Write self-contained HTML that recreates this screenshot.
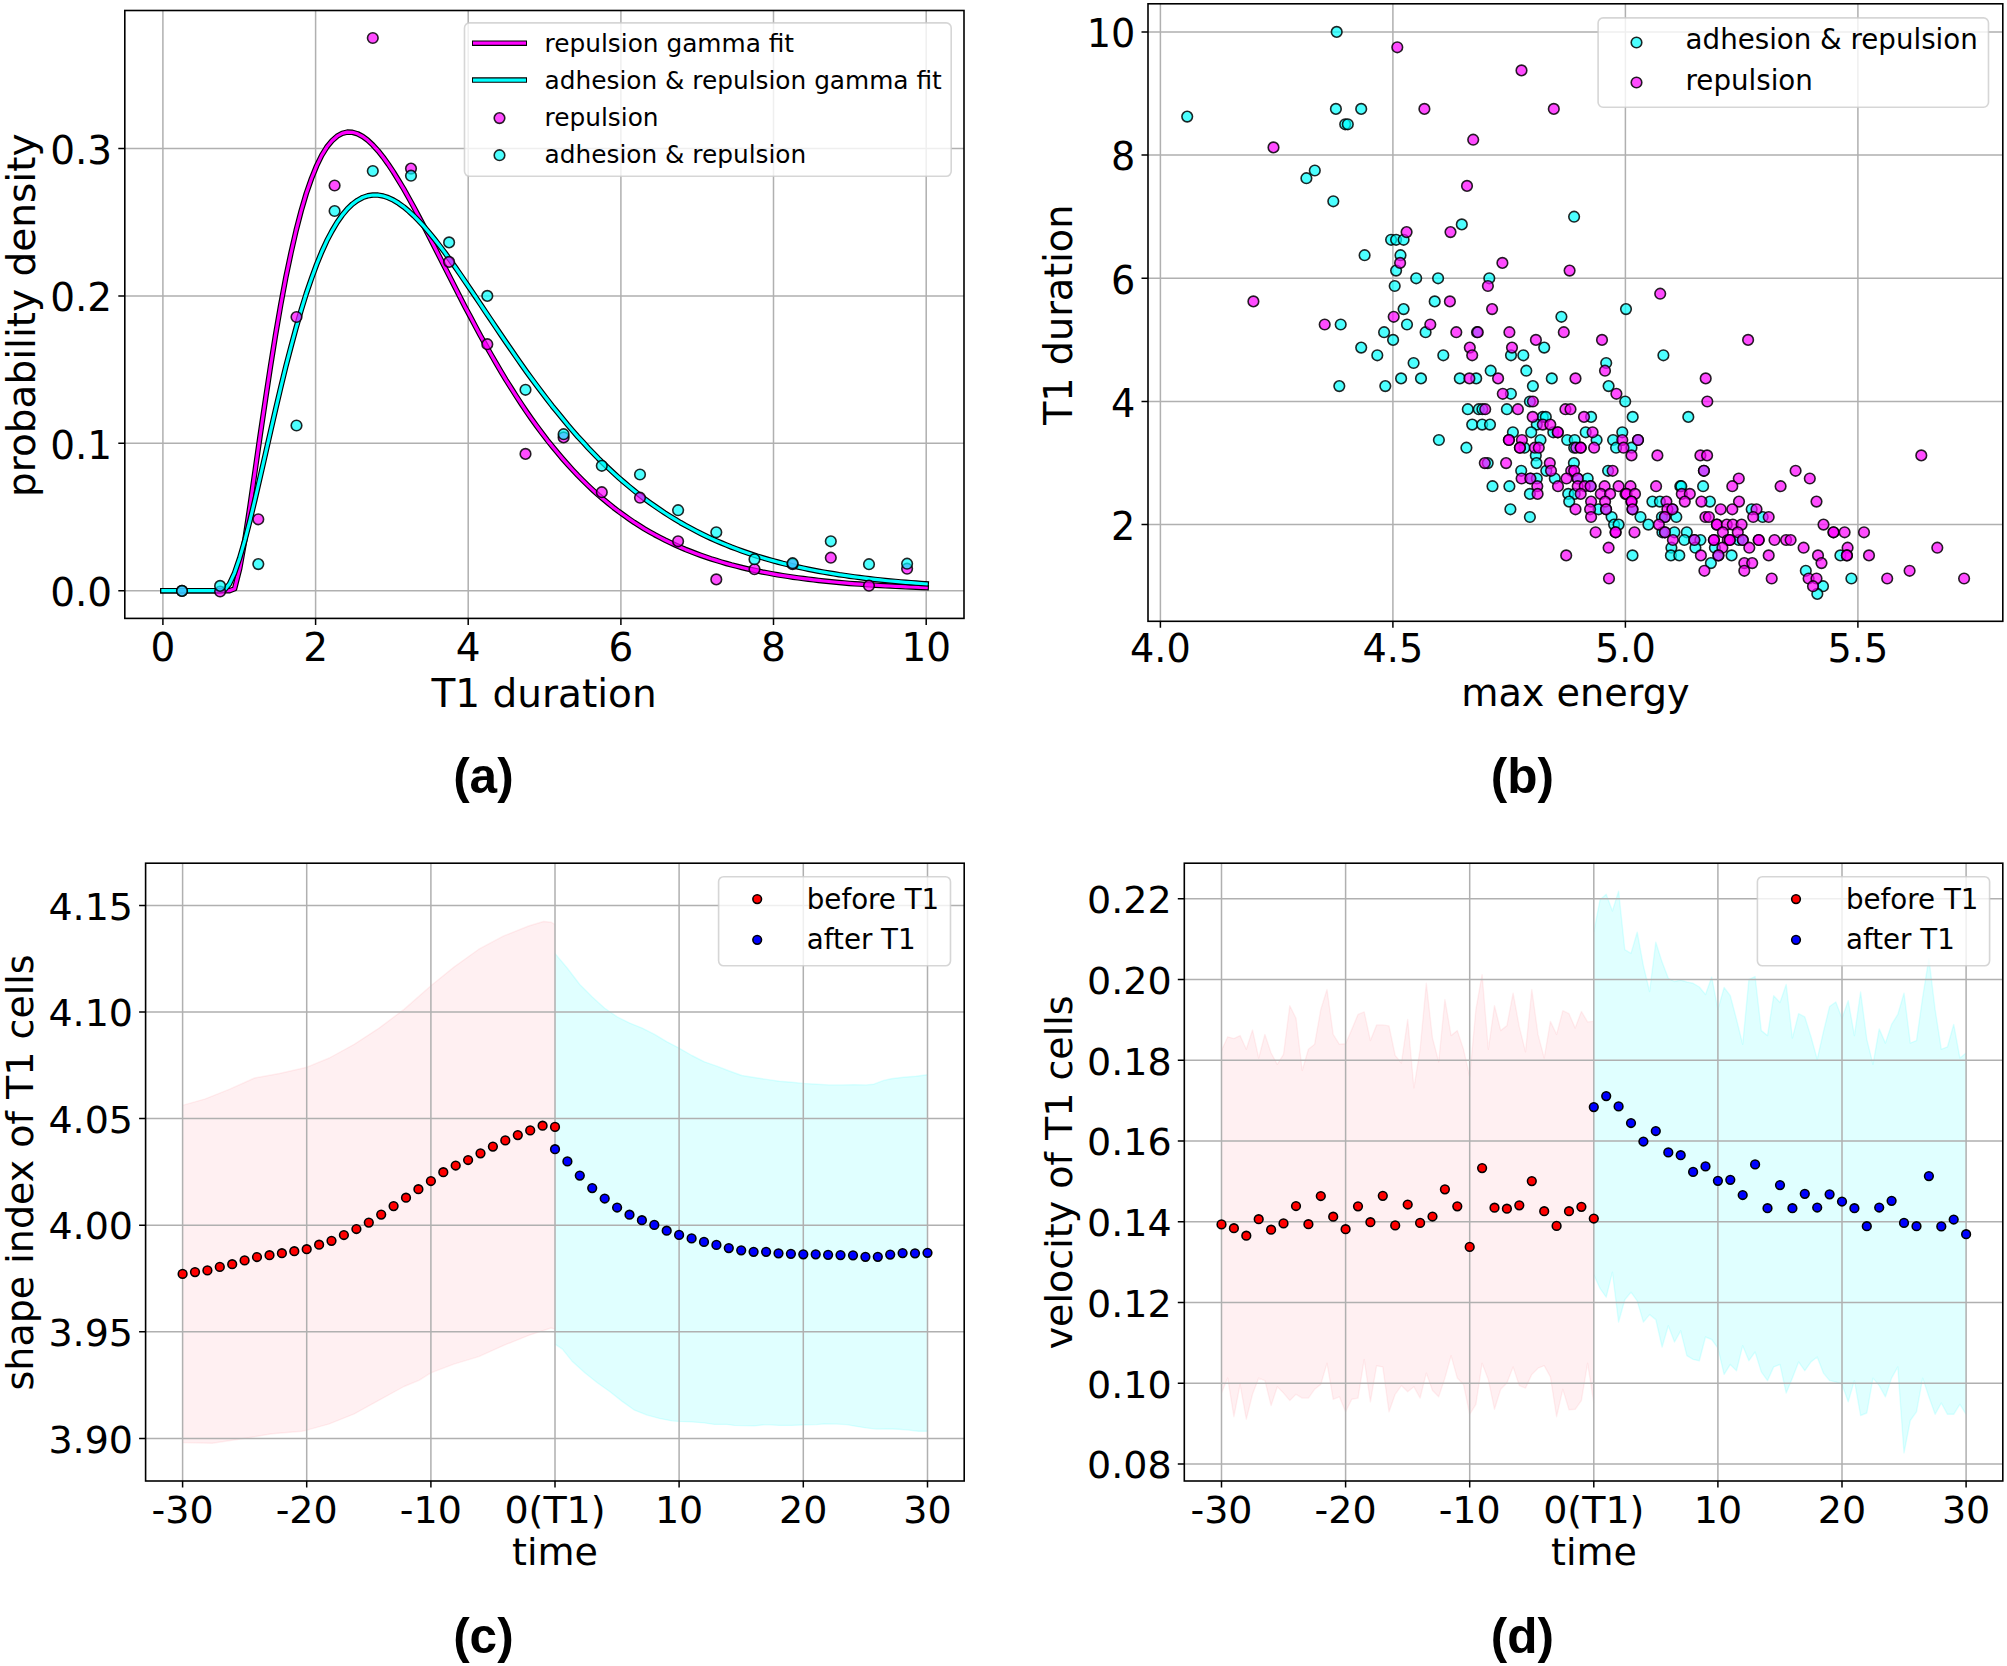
<!DOCTYPE html>
<html lang="en"><head><meta charset="utf-8"><title>T1 transitions figure</title>
<style>html,body{margin:0;padding:0;background:#fff;overflow:hidden}svg{display:block}</style></head>
<body>
<svg width="2007" height="1666" viewBox="0 0 2007 1666">
<rect width="2007" height="1666" fill="#fff"/>
<g id="panel-a">
<path d="M162.9 10.5V618.4M315.6 10.5V618.4M468.2 10.5V618.4M620.9 10.5V618.4M773.5 10.5V618.4M926.2 10.5V618.4M124.8 590.7H964M124.8 443.3H964M124.8 295.9H964M124.8 148.5H964" stroke="#b0b0b0" stroke-width="1.5" fill="none"/>
<path d="M162.9 590.7L168 590.7L173.1 590.7L178.3 590.7L183.4 590.7L188.5 590.7L193.6 590.7L198.8 590.7L203.9 590.7L209 590.7L214.1 590.7L219.3 590.7L224.4 590.7L229.5 590.7L234.6 588.7L239.7 568.6L244.9 539.5L250 506L255.1 470.7L260.2 435L265.4 400L270.5 366.3L275.6 334.5L280.7 304.9L285.8 277.6L291 252.8L296.1 230.5L301.2 210.7L306.3 193.4L311.5 178.5L316.6 165.9L321.7 155.4L326.8 147.1L332 140.8L337.1 136.2L342.2 133.4L347.3 132.1L352.4 132.3L357.6 133.8L362.7 136.5L367.8 140.3L372.9 145.1L378.1 150.8L383.2 157.2L388.3 164.3L393.4 172L398.5 180.3L403.7 188.9L408.8 198L413.9 207.3L419 216.9L424.2 226.7L429.3 236.7L434.4 246.7L439.5 256.8L444.7 266.9L449.8 277L454.9 287L460 297L465.1 306.9L470.3 316.6L475.4 326.2L480.5 335.7L485.6 344.9L490.8 354L495.9 362.9L501 371.6L506.1 380.1L511.3 388.3L516.4 396.4L521.5 404.2L526.6 411.8L531.7 419.1L536.9 426.3L542 433.2L547.1 439.9L552.2 446.3L557.4 452.6L562.5 458.6L567.6 464.4L572.7 470L577.8 475.4L583 480.6L588.1 485.6L593.2 490.4L598.3 495L603.5 499.4L608.6 503.6L613.7 507.7L618.8 511.6L624 515.3L629.1 518.9L634.2 522.4L639.3 525.6L644.4 528.8L649.6 531.8L654.7 534.7L659.8 537.4L664.9 540L670.1 542.5L675.2 544.9L680.3 547.2L685.4 549.4L690.6 551.4L695.7 553.4L700.8 555.3L705.9 557.1L711 558.8L716.2 560.4L721.3 562L726.4 563.5L731.5 564.9L736.7 566.2L741.8 567.5L746.9 568.7L752 569.8L757.1 570.9L762.3 572L767.4 572.9L772.5 573.9L777.6 574.8L782.8 575.6L787.9 576.4L793 577.2L798.1 577.9L803.3 578.6L808.4 579.2L813.5 579.8L818.6 580.4L823.7 581L828.9 581.5L834 582L839.1 582.5L844.2 582.9L849.4 583.4L854.5 583.8L859.6 584.1L864.7 584.5L869.8 584.8L875 585.2L880.1 585.5L885.2 585.8L890.3 586L895.5 586.3L900.6 586.5L905.7 586.8L910.8 587L916 587.2L921.1 587.4L926.2 587.6" fill="none" stroke="#000" stroke-width="5.5" stroke-linecap="square" stroke-linejoin="round"/>
<path d="M162.9 590.7L168 590.7L173.1 590.7L178.3 590.7L183.4 590.7L188.5 590.7L193.6 590.7L198.8 590.7L203.9 590.7L209 590.7L214.1 590.7L219.3 590.7L224.4 590.7L229.5 590.7L234.6 588.7L239.7 568.6L244.9 539.5L250 506L255.1 470.7L260.2 435L265.4 400L270.5 366.3L275.6 334.5L280.7 304.9L285.8 277.6L291 252.8L296.1 230.5L301.2 210.7L306.3 193.4L311.5 178.5L316.6 165.9L321.7 155.4L326.8 147.1L332 140.8L337.1 136.2L342.2 133.4L347.3 132.1L352.4 132.3L357.6 133.8L362.7 136.5L367.8 140.3L372.9 145.1L378.1 150.8L383.2 157.2L388.3 164.3L393.4 172L398.5 180.3L403.7 188.9L408.8 198L413.9 207.3L419 216.9L424.2 226.7L429.3 236.7L434.4 246.7L439.5 256.8L444.7 266.9L449.8 277L454.9 287L460 297L465.1 306.9L470.3 316.6L475.4 326.2L480.5 335.7L485.6 344.9L490.8 354L495.9 362.9L501 371.6L506.1 380.1L511.3 388.3L516.4 396.4L521.5 404.2L526.6 411.8L531.7 419.1L536.9 426.3L542 433.2L547.1 439.9L552.2 446.3L557.4 452.6L562.5 458.6L567.6 464.4L572.7 470L577.8 475.4L583 480.6L588.1 485.6L593.2 490.4L598.3 495L603.5 499.4L608.6 503.6L613.7 507.7L618.8 511.6L624 515.3L629.1 518.9L634.2 522.4L639.3 525.6L644.4 528.8L649.6 531.8L654.7 534.7L659.8 537.4L664.9 540L670.1 542.5L675.2 544.9L680.3 547.2L685.4 549.4L690.6 551.4L695.7 553.4L700.8 555.3L705.9 557.1L711 558.8L716.2 560.4L721.3 562L726.4 563.5L731.5 564.9L736.7 566.2L741.8 567.5L746.9 568.7L752 569.8L757.1 570.9L762.3 572L767.4 572.9L772.5 573.9L777.6 574.8L782.8 575.6L787.9 576.4L793 577.2L798.1 577.9L803.3 578.6L808.4 579.2L813.5 579.8L818.6 580.4L823.7 581L828.9 581.5L834 582L839.1 582.5L844.2 582.9L849.4 583.4L854.5 583.8L859.6 584.1L864.7 584.5L869.8 584.8L875 585.2L880.1 585.5L885.2 585.8L890.3 586L895.5 586.3L900.6 586.5L905.7 586.8L910.8 587L916 587.2L921.1 587.4L926.2 587.6" fill="none" stroke="#f0f" stroke-width="3.2" stroke-linecap="square" stroke-linejoin="round"/>
<path d="M162.9 590.7L168 590.7L173.1 590.7L178.3 590.7L183.4 590.7L188.5 590.7L193.6 590.7L198.8 590.7L203.9 590.7L209 590.7L214.1 590.7L219.3 590.7L224.4 590L229.5 583.9L234.6 572.8L239.7 557.9L244.9 540.1L250 520.3L255.1 499L260.2 476.8L265.4 454.2L270.5 431.6L275.6 409.3L280.7 387.6L285.8 366.7L291 346.7L296.1 327.8L301.2 310L306.3 293.5L311.5 278.4L316.6 264.5L321.7 252L326.8 240.8L332 231L337.1 222.4L342.2 215.1L347.3 209L352.4 204.1L357.6 200.3L362.7 197.5L367.8 195.8L372.9 195L378.1 195.1L383.2 196L388.3 197.7L393.4 200.1L398.5 203.2L403.7 206.9L408.8 211.2L413.9 215.9L419 221.1L424.2 226.7L429.3 232.7L434.4 239L439.5 245.6L444.7 252.4L449.8 259.5L454.9 266.7L460 274L465.1 281.5L470.3 289.1L475.4 296.7L480.5 304.3L485.6 312L490.8 319.7L495.9 327.3L501 334.9L506.1 342.4L511.3 349.9L516.4 357.3L521.5 364.6L526.6 371.8L531.7 378.8L536.9 385.8L542 392.6L547.1 399.3L552.2 405.9L557.4 412.3L562.5 418.6L567.6 424.8L572.7 430.7L577.8 436.6L583 442.2L588.1 447.8L593.2 453.1L598.3 458.4L603.5 463.4L608.6 468.3L613.7 473.1L618.8 477.7L624 482.2L629.1 486.5L634.2 490.7L639.3 494.8L644.4 498.7L649.6 502.5L654.7 506.1L659.8 509.6L664.9 513L670.1 516.3L675.2 519.4L680.3 522.5L685.4 525.4L690.6 528.2L695.7 530.9L700.8 533.5L705.9 536L711 538.4L716.2 540.7L721.3 542.9L726.4 545L731.5 547.1L736.7 549L741.8 550.9L746.9 552.7L752 554.4L757.1 556.1L762.3 557.7L767.4 559.2L772.5 560.6L777.6 562L782.8 563.4L787.9 564.6L793 565.9L798.1 567L803.3 568.1L808.4 569.2L813.5 570.2L818.6 571.2L823.7 572.1L828.9 573L834 573.8L839.1 574.7L844.2 575.4L849.4 576.2L854.5 576.9L859.6 577.5L864.7 578.2L869.8 578.8L875 579.4L880.1 579.9L885.2 580.5L890.3 581L895.5 581.4L900.6 581.9L905.7 582.3L910.8 582.7L916 583.1L921.1 583.5L926.2 583.9" fill="none" stroke="#000" stroke-width="5.5" stroke-linecap="square" stroke-linejoin="round"/>
<path d="M162.9 590.7L168 590.7L173.1 590.7L178.3 590.7L183.4 590.7L188.5 590.7L193.6 590.7L198.8 590.7L203.9 590.7L209 590.7L214.1 590.7L219.3 590.7L224.4 590L229.5 583.9L234.6 572.8L239.7 557.9L244.9 540.1L250 520.3L255.1 499L260.2 476.8L265.4 454.2L270.5 431.6L275.6 409.3L280.7 387.6L285.8 366.7L291 346.7L296.1 327.8L301.2 310L306.3 293.5L311.5 278.4L316.6 264.5L321.7 252L326.8 240.8L332 231L337.1 222.4L342.2 215.1L347.3 209L352.4 204.1L357.6 200.3L362.7 197.5L367.8 195.8L372.9 195L378.1 195.1L383.2 196L388.3 197.7L393.4 200.1L398.5 203.2L403.7 206.9L408.8 211.2L413.9 215.9L419 221.1L424.2 226.7L429.3 232.7L434.4 239L439.5 245.6L444.7 252.4L449.8 259.5L454.9 266.7L460 274L465.1 281.5L470.3 289.1L475.4 296.7L480.5 304.3L485.6 312L490.8 319.7L495.9 327.3L501 334.9L506.1 342.4L511.3 349.9L516.4 357.3L521.5 364.6L526.6 371.8L531.7 378.8L536.9 385.8L542 392.6L547.1 399.3L552.2 405.9L557.4 412.3L562.5 418.6L567.6 424.8L572.7 430.7L577.8 436.6L583 442.2L588.1 447.8L593.2 453.1L598.3 458.4L603.5 463.4L608.6 468.3L613.7 473.1L618.8 477.7L624 482.2L629.1 486.5L634.2 490.7L639.3 494.8L644.4 498.7L649.6 502.5L654.7 506.1L659.8 509.6L664.9 513L670.1 516.3L675.2 519.4L680.3 522.5L685.4 525.4L690.6 528.2L695.7 530.9L700.8 533.5L705.9 536L711 538.4L716.2 540.7L721.3 542.9L726.4 545L731.5 547.1L736.7 549L741.8 550.9L746.9 552.7L752 554.4L757.1 556.1L762.3 557.7L767.4 559.2L772.5 560.6L777.6 562L782.8 563.4L787.9 564.6L793 565.9L798.1 567L803.3 568.1L808.4 569.2L813.5 570.2L818.6 571.2L823.7 572.1L828.9 573L834 573.8L839.1 574.7L844.2 575.4L849.4 576.2L854.5 576.9L859.6 577.5L864.7 578.2L869.8 578.8L875 579.4L880.1 579.9L885.2 580.5L890.3 581L895.5 581.4L900.6 581.9L905.7 582.3L910.8 582.7L916 583.1L921.1 583.5L926.2 583.9" fill="none" stroke="#0ff" stroke-width="3.2" stroke-linecap="square" stroke-linejoin="round"/>
<g fill="#f0f" fill-opacity="0.7" stroke="#000" stroke-opacity="0.85" stroke-width="1.6">
<circle cx="182" cy="590.9" r="5.3"/><circle cx="220.1" cy="591.5" r="5.3"/><circle cx="258.3" cy="519.3" r="5.3"/><circle cx="296.5" cy="317" r="5.3"/><circle cx="334.6" cy="185.5" r="5.3"/><circle cx="372.8" cy="38" r="5.3"/><circle cx="411" cy="168.6" r="5.3"/><circle cx="449.1" cy="261.9" r="5.3"/><circle cx="487.3" cy="344.2" r="5.3"/><circle cx="525.5" cy="453.9" r="5.3"/><circle cx="563.6" cy="437.4" r="5.3"/><circle cx="601.8" cy="492.2" r="5.3"/><circle cx="640" cy="497.7" r="5.3"/><circle cx="678.1" cy="541.3" r="5.3"/><circle cx="716.3" cy="579.4" r="5.3"/><circle cx="754.5" cy="569.2" r="5.3"/><circle cx="792.6" cy="564.2" r="5.3"/><circle cx="830.8" cy="557.7" r="5.3"/><circle cx="869" cy="585.7" r="5.3"/><circle cx="907.1" cy="568.7" r="5.3"/>
</g>
<g fill="#0ff" fill-opacity="0.7" stroke="#000" stroke-opacity="0.85" stroke-width="1.6">
<circle cx="182" cy="590.9" r="5.3"/><circle cx="220.1" cy="585.9" r="5.3"/><circle cx="258.3" cy="564.1" r="5.3"/><circle cx="296.5" cy="425.5" r="5.3"/><circle cx="334.6" cy="211" r="5.3"/><circle cx="372.8" cy="171" r="5.3"/><circle cx="411" cy="175.7" r="5.3"/><circle cx="449.1" cy="242.4" r="5.3"/><circle cx="487.3" cy="295.9" r="5.3"/><circle cx="525.5" cy="389.8" r="5.3"/><circle cx="563.6" cy="434.2" r="5.3"/><circle cx="601.8" cy="465.8" r="5.3"/><circle cx="640" cy="474.5" r="5.3"/><circle cx="678.1" cy="510.2" r="5.3"/><circle cx="716.3" cy="532.3" r="5.3"/><circle cx="754.5" cy="559.2" r="5.3"/><circle cx="792.6" cy="563.2" r="5.3"/><circle cx="830.8" cy="541.3" r="5.3"/><circle cx="869" cy="564.2" r="5.3"/><circle cx="907.1" cy="563.7" r="5.3"/>
</g>
<rect x="464.5" y="22.9" width="486.7" height="153.4" rx="5" ry="5" fill="#fff" fill-opacity="0.8" stroke="#ccc" stroke-opacity="0.8" stroke-width="1.6"/>
<path d="M472 43.2H527" stroke="#000" stroke-width="5.5"/>
<path d="M473 43.2H526" stroke="#f0f" stroke-width="3.2"/>
<path d="M472 80.1H527" stroke="#000" stroke-width="5.5"/>
<path d="M473 80.1H526" stroke="#0ff" stroke-width="3.2"/>
<g fill="#f0f" fill-opacity="0.7" stroke="#000" stroke-opacity="0.85" stroke-width="1.6">
<circle cx="499.5" cy="118.1" r="5.3"/>
</g>
<g fill="#0ff" fill-opacity="0.7" stroke="#000" stroke-opacity="0.85" stroke-width="1.6">
<circle cx="499.5" cy="155.2" r="5.3"/>
</g>
<g font-family='"DejaVu Sans", "Liberation Sans", sans-serif' font-size="24.8">
<text x="544.6" y="51.8">repulsion gamma fit</text>
<text x="544.6" y="88.7">adhesion &amp; repulsion gamma fit</text>
<text x="544.6" y="125.7">repulsion</text>
<text x="544.6" y="162.8">adhesion &amp; repulsion</text>
</g>
<rect x="124.8" y="10.5" width="839.2" height="607.9" fill="none" stroke="#000" stroke-width="1.6"/>
<path d="M162.9 618.4v6.5M315.6 618.4v6.5M468.2 618.4v6.5M620.9 618.4v6.5M773.5 618.4v6.5M926.2 618.4v6.5M124.8 590.7h-6.5M124.8 443.3h-6.5M124.8 295.9h-6.5M124.8 148.5h-6.5" stroke="#000" stroke-width="1.5" fill="none"/>
<g font-family='"DejaVu Sans", "Liberation Sans", sans-serif' font-size="39" fill="#000">
<g text-anchor="middle">
<text x="162.9" y="661.3">0</text>
<text x="315.6" y="661.3">2</text>
<text x="468.2" y="661.3">4</text>
<text x="620.9" y="661.3">6</text>
<text x="773.5" y="661.3">8</text>
<text x="926.2" y="661.3">10</text>
</g><g text-anchor="end">
<text x="112.2" y="606.2">0.0</text>
<text x="112.2" y="458.8">0.1</text>
<text x="112.2" y="311.4">0.2</text>
<text x="112.2" y="164">0.3</text>
</g></g>
<text x="544.1" y="706.9" font-family='"DejaVu Sans", "Liberation Sans", sans-serif' font-size="39" text-anchor="middle">T1 duration</text>
<text transform="translate(34.8 315.2) rotate(-90)" font-family='"DejaVu Sans", "Liberation Sans", sans-serif' font-size="39" text-anchor="middle">probability density</text>
</g>
<text x="483.4" y="792.8" font-family='"Liberation Sans", "DejaVu Sans", sans-serif' font-weight="bold" font-size="49.5" text-anchor="middle">(a)</text>
<g id="panel-b">
<path d="M1160.4 3.8V621.3M1392.9 3.8V621.3M1625.4 3.8V621.3M1857.9 3.8V621.3M1148 524.6H2002.8M1148 401.5H2002.8M1148 278.3H2002.8M1148 155.1H2002.8M1148 31.9H2002.8" stroke="#b0b0b0" stroke-width="1.5" fill="none"/>
<g fill="#0ff" fill-opacity="0.7" stroke="#000" stroke-opacity="0.85" stroke-width="1.6">
<circle cx="1336.7" cy="31.9" r="5.3"/><circle cx="1187.2" cy="116.6" r="5.3"/><circle cx="1335.9" cy="108.9" r="5.3"/><circle cx="1361.2" cy="108.9" r="5.3"/><circle cx="1345.2" cy="124.3" r="5.3"/><circle cx="1347.8" cy="124.3" r="5.3"/><circle cx="1314.8" cy="170.5" r="5.3"/><circle cx="1306.4" cy="178.2" r="5.3"/><circle cx="1333.3" cy="201.3" r="5.3"/><circle cx="1461.8" cy="224.4" r="5.3"/><circle cx="1391.1" cy="239.8" r="5.3"/><circle cx="1396.1" cy="239.8" r="5.3"/><circle cx="1403.6" cy="239.8" r="5.3"/><circle cx="1364.6" cy="255.2" r="5.3"/><circle cx="1400.5" cy="255.2" r="5.3"/><circle cx="1396.1" cy="270.6" r="5.3"/><circle cx="1416.2" cy="278.3" r="5.3"/><circle cx="1438.1" cy="278.3" r="5.3"/><circle cx="1489.3" cy="278.3" r="5.3"/><circle cx="1394.7" cy="286" r="5.3"/><circle cx="1434.7" cy="301.4" r="5.3"/><circle cx="1403.6" cy="309.1" r="5.3"/><circle cx="1340.7" cy="324.5" r="5.3"/><circle cx="1407" cy="324.5" r="5.3"/><circle cx="1574.1" cy="216.7" r="5.3"/><circle cx="1384.1" cy="332.2" r="5.3"/><circle cx="1425.6" cy="332.2" r="5.3"/><circle cx="1477" cy="332.2" r="5.3"/><circle cx="1393.1" cy="339.9" r="5.3"/><circle cx="1361.2" cy="347.6" r="5.3"/><circle cx="1377.3" cy="355.3" r="5.3"/><circle cx="1443.3" cy="355.3" r="5.3"/><circle cx="1413.6" cy="363" r="5.3"/><circle cx="1490.7" cy="370.7" r="5.3"/><circle cx="1401.1" cy="378.4" r="5.3"/><circle cx="1421" cy="378.4" r="5.3"/><circle cx="1459.8" cy="378.4" r="5.3"/><circle cx="1476.2" cy="378.4" r="5.3"/><circle cx="1339.3" cy="386.1" r="5.3"/><circle cx="1385.3" cy="386.1" r="5.3"/><circle cx="1467.8" cy="409.2" r="5.3"/><circle cx="1478.8" cy="409.2" r="5.3"/><circle cx="1482.4" cy="409.2" r="5.3"/><circle cx="1472.2" cy="424.6" r="5.3"/><circle cx="1482.2" cy="424.6" r="5.3"/><circle cx="1438.9" cy="440" r="5.3"/><circle cx="1466.4" cy="447.7" r="5.3"/><circle cx="1487.7" cy="463.1" r="5.3"/><circle cx="1626" cy="309.1" r="5.3"/><circle cx="1561.4" cy="316.8" r="5.3"/><circle cx="1544.2" cy="347.6" r="5.3"/><circle cx="1511" cy="355.3" r="5.3"/><circle cx="1523.3" cy="355.3" r="5.3"/><circle cx="1663.4" cy="355.3" r="5.3"/><circle cx="1606.2" cy="363" r="5.3"/><circle cx="1526.3" cy="370.7" r="5.3"/><circle cx="1551.8" cy="378.4" r="5.3"/><circle cx="1532.9" cy="386.1" r="5.3"/><circle cx="1608.6" cy="386.1" r="5.3"/><circle cx="1510.9" cy="393.8" r="5.3"/><circle cx="1529.9" cy="401.5" r="5.3"/><circle cx="1625.2" cy="401.5" r="5.3"/><circle cx="1506.9" cy="409.2" r="5.3"/><circle cx="1542.8" cy="416.9" r="5.3"/><circle cx="1545.8" cy="416.9" r="5.3"/><circle cx="1591.1" cy="416.9" r="5.3"/><circle cx="1632.7" cy="416.9" r="5.3"/><circle cx="1688.3" cy="416.9" r="5.3"/><circle cx="1490" cy="424.6" r="5.3"/><circle cx="1536.8" cy="424.6" r="5.3"/><circle cx="1512.9" cy="432.3" r="5.3"/><circle cx="1531.2" cy="432.3" r="5.3"/><circle cx="1553.3" cy="432.3" r="5.3"/><circle cx="1585.7" cy="432.3" r="5.3"/><circle cx="1622.3" cy="432.3" r="5.3"/><circle cx="1540.5" cy="440" r="5.3"/><circle cx="1567.2" cy="440" r="5.3"/><circle cx="1574.7" cy="440" r="5.3"/><circle cx="1596.6" cy="440" r="5.3"/><circle cx="1613.1" cy="440" r="5.3"/><circle cx="1638" cy="440" r="5.3"/><circle cx="1524.4" cy="447.7" r="5.3"/><circle cx="1574.2" cy="447.7" r="5.3"/><circle cx="1616.1" cy="447.7" r="5.3"/><circle cx="1631.5" cy="447.7" r="5.3"/><circle cx="1535.8" cy="455.4" r="5.3"/><circle cx="1536.5" cy="463.1" r="5.3"/><circle cx="1573.9" cy="463.1" r="5.3"/><circle cx="1521.2" cy="470.8" r="5.3"/><circle cx="1546.3" cy="470.8" r="5.3"/><circle cx="1608.1" cy="470.8" r="5.3"/><circle cx="1530.4" cy="478.5" r="5.3"/><circle cx="1536.8" cy="478.5" r="5.3"/><circle cx="1554.8" cy="478.5" r="5.3"/><circle cx="1577.7" cy="478.5" r="5.3"/><circle cx="1587.7" cy="478.5" r="5.3"/><circle cx="1492.5" cy="486.2" r="5.3"/><circle cx="1509.4" cy="486.2" r="5.3"/><circle cx="1590.6" cy="486.2" r="5.3"/><circle cx="1680.3" cy="486.2" r="5.3"/><circle cx="1681.3" cy="486.2" r="5.3"/><circle cx="1529.9" cy="493.9" r="5.3"/><circle cx="1568.2" cy="493.9" r="5.3"/><circle cx="1574.7" cy="493.9" r="5.3"/><circle cx="1569.2" cy="501.6" r="5.3"/><circle cx="1652.4" cy="501.6" r="5.3"/><circle cx="1659.9" cy="501.6" r="5.3"/><circle cx="1510.4" cy="509.3" r="5.3"/><circle cx="1598.6" cy="509.3" r="5.3"/><circle cx="1606.1" cy="509.3" r="5.3"/><circle cx="1632.5" cy="509.3" r="5.3"/><circle cx="1672.4" cy="509.3" r="5.3"/><circle cx="1529.9" cy="517" r="5.3"/><circle cx="1611.6" cy="517" r="5.3"/><circle cx="1640.5" cy="517" r="5.3"/><circle cx="1661.9" cy="517" r="5.3"/><circle cx="1664.9" cy="517" r="5.3"/><circle cx="1676.3" cy="517" r="5.3"/><circle cx="1614.1" cy="524.6" r="5.3"/><circle cx="1618.6" cy="524.6" r="5.3"/><circle cx="1648.4" cy="524.6" r="5.3"/><circle cx="1662.4" cy="532.3" r="5.3"/><circle cx="1664.9" cy="532.3" r="5.3"/><circle cx="1674.4" cy="532.3" r="5.3"/><circle cx="1686.8" cy="532.3" r="5.3"/><circle cx="1684.3" cy="540" r="5.3"/><circle cx="1671.4" cy="547.7" r="5.3"/><circle cx="1632.5" cy="555.4" r="5.3"/><circle cx="1670.9" cy="555.4" r="5.3"/><circle cx="1679.3" cy="555.4" r="5.3"/><circle cx="1703.9" cy="470.8" r="5.3"/><circle cx="1703.1" cy="486.2" r="5.3"/><circle cx="1709.9" cy="501.6" r="5.3"/><circle cx="1751.7" cy="509.3" r="5.3"/><circle cx="1762.7" cy="517" r="5.3"/><circle cx="1694.4" cy="540" r="5.3"/><circle cx="1700.4" cy="540" r="5.3"/><circle cx="1738.8" cy="540" r="5.3"/><circle cx="1742.8" cy="540" r="5.3"/><circle cx="1695.4" cy="547.7" r="5.3"/><circle cx="1714.9" cy="547.7" r="5.3"/><circle cx="1718.4" cy="555.4" r="5.3"/><circle cx="1731.6" cy="555.4" r="5.3"/><circle cx="1840.4" cy="555.4" r="5.3"/><circle cx="1710.9" cy="563.1" r="5.3"/><circle cx="1805.8" cy="570.8" r="5.3"/><circle cx="1851.4" cy="578.5" r="5.3"/><circle cx="1823" cy="586.2" r="5.3"/><circle cx="1817.3" cy="593.9" r="5.3"/>
</g>
<g fill="#f0f" fill-opacity="0.7" stroke="#000" stroke-opacity="0.85" stroke-width="1.6">
<circle cx="1397.3" cy="47.3" r="5.3"/><circle cx="1424.4" cy="108.9" r="5.3"/><circle cx="1473.2" cy="139.7" r="5.3"/><circle cx="1273.5" cy="147.4" r="5.3"/><circle cx="1467" cy="185.9" r="5.3"/><circle cx="1406.6" cy="232.1" r="5.3"/><circle cx="1450.5" cy="232.1" r="5.3"/><circle cx="1400.1" cy="262.9" r="5.3"/><circle cx="1487.9" cy="286" r="5.3"/><circle cx="1253.4" cy="301.4" r="5.3"/><circle cx="1449.9" cy="301.4" r="5.3"/><circle cx="1492.1" cy="309.1" r="5.3"/><circle cx="1393.7" cy="316.8" r="5.3"/><circle cx="1324.7" cy="324.5" r="5.3"/><circle cx="1430.3" cy="324.5" r="5.3"/><circle cx="1521.5" cy="70.4" r="5.3"/><circle cx="1553.8" cy="108.9" r="5.3"/><circle cx="1502.4" cy="262.9" r="5.3"/><circle cx="1569.6" cy="270.6" r="5.3"/><circle cx="1660.2" cy="293.7" r="5.3"/><circle cx="1456.3" cy="332.2" r="5.3"/><circle cx="1477.8" cy="332.2" r="5.3"/><circle cx="1469.8" cy="347.6" r="5.3"/><circle cx="1472.2" cy="355.3" r="5.3"/><circle cx="1469.4" cy="378.4" r="5.3"/><circle cx="1498.1" cy="378.4" r="5.3"/><circle cx="1485.2" cy="409.2" r="5.3"/><circle cx="1484.8" cy="463.1" r="5.3"/><circle cx="1509.4" cy="332.2" r="5.3"/><circle cx="1563.8" cy="332.2" r="5.3"/><circle cx="1535.9" cy="339.9" r="5.3"/><circle cx="1602" cy="339.9" r="5.3"/><circle cx="1748.1" cy="339.9" r="5.3"/><circle cx="1512" cy="347.6" r="5.3"/><circle cx="1605" cy="370.7" r="5.3"/><circle cx="1575.5" cy="378.4" r="5.3"/><circle cx="1705.7" cy="378.4" r="5.3"/><circle cx="1707.3" cy="401.5" r="5.3"/><circle cx="1609" cy="578.5" r="5.3"/><circle cx="1502.8" cy="393.8" r="5.3"/><circle cx="1616.4" cy="393.8" r="5.3"/><circle cx="1532.9" cy="401.5" r="5.3"/><circle cx="1517.9" cy="409.2" r="5.3"/><circle cx="1565.4" cy="409.2" r="5.3"/><circle cx="1570.5" cy="409.2" r="5.3"/><circle cx="1532.7" cy="416.9" r="5.3"/><circle cx="1584" cy="416.9" r="5.3"/><circle cx="1542.8" cy="424.6" r="5.3"/><circle cx="1550.3" cy="424.6" r="5.3"/><circle cx="1557.8" cy="432.3" r="5.3"/><circle cx="1557.8" cy="432.3" r="5.3"/><circle cx="1592.6" cy="432.3" r="5.3"/><circle cx="1508.9" cy="440" r="5.3"/><circle cx="1508.9" cy="440" r="5.3"/><circle cx="1521.9" cy="440" r="5.3"/><circle cx="1622.3" cy="440" r="5.3"/><circle cx="1638" cy="440" r="5.3"/><circle cx="1519.9" cy="447.7" r="5.3"/><circle cx="1519.9" cy="447.7" r="5.3"/><circle cx="1534.8" cy="447.7" r="5.3"/><circle cx="1538.8" cy="447.7" r="5.3"/><circle cx="1576.2" cy="447.7" r="5.3"/><circle cx="1580.7" cy="447.7" r="5.3"/><circle cx="1580.7" cy="447.7" r="5.3"/><circle cx="1594.1" cy="447.7" r="5.3"/><circle cx="1623.5" cy="447.7" r="5.3"/><circle cx="1631.5" cy="455.4" r="5.3"/><circle cx="1657.4" cy="455.4" r="5.3"/><circle cx="1506.1" cy="463.1" r="5.3"/><circle cx="1549.8" cy="463.1" r="5.3"/><circle cx="1551" cy="470.8" r="5.3"/><circle cx="1571.2" cy="470.8" r="5.3"/><circle cx="1574.2" cy="470.8" r="5.3"/><circle cx="1612.6" cy="470.8" r="5.3"/><circle cx="1521.6" cy="478.5" r="5.3"/><circle cx="1530.4" cy="478.5" r="5.3"/><circle cx="1566.5" cy="478.5" r="5.3"/><circle cx="1577.7" cy="478.5" r="5.3"/><circle cx="1537.3" cy="486.2" r="5.3"/><circle cx="1558" cy="486.2" r="5.3"/><circle cx="1577.7" cy="486.2" r="5.3"/><circle cx="1584.7" cy="486.2" r="5.3"/><circle cx="1590.6" cy="486.2" r="5.3"/><circle cx="1604.6" cy="486.2" r="5.3"/><circle cx="1618.6" cy="486.2" r="5.3"/><circle cx="1630.5" cy="486.2" r="5.3"/><circle cx="1656.1" cy="486.2" r="5.3"/><circle cx="1537.6" cy="493.9" r="5.3"/><circle cx="1580.7" cy="493.9" r="5.3"/><circle cx="1600.8" cy="493.9" r="5.3"/><circle cx="1610.1" cy="493.9" r="5.3"/><circle cx="1625.5" cy="493.9" r="5.3"/><circle cx="1626.5" cy="493.9" r="5.3"/><circle cx="1635" cy="493.9" r="5.3"/><circle cx="1681.8" cy="493.9" r="5.3"/><circle cx="1689.8" cy="493.9" r="5.3"/><circle cx="1591.1" cy="501.6" r="5.3"/><circle cx="1605.1" cy="501.6" r="5.3"/><circle cx="1631.5" cy="501.6" r="5.3"/><circle cx="1631.5" cy="501.6" r="5.3"/><circle cx="1666.4" cy="501.6" r="5.3"/><circle cx="1684.8" cy="501.6" r="5.3"/><circle cx="1575.5" cy="509.3" r="5.3"/><circle cx="1590.1" cy="509.3" r="5.3"/><circle cx="1606.1" cy="509.3" r="5.3"/><circle cx="1632.5" cy="509.3" r="5.3"/><circle cx="1667.4" cy="509.3" r="5.3"/><circle cx="1672.4" cy="509.3" r="5.3"/><circle cx="1591.1" cy="517" r="5.3"/><circle cx="1664.9" cy="517" r="5.3"/><circle cx="1658.9" cy="524.6" r="5.3"/><circle cx="1595.6" cy="532.3" r="5.3"/><circle cx="1615.6" cy="532.3" r="5.3"/><circle cx="1615.6" cy="532.3" r="5.3"/><circle cx="1634.5" cy="532.3" r="5.3"/><circle cx="1664.9" cy="532.3" r="5.3"/><circle cx="1672.9" cy="540" r="5.3"/><circle cx="1608.6" cy="547.7" r="5.3"/><circle cx="1566.2" cy="555.4" r="5.3"/><circle cx="1700.4" cy="455.4" r="5.3"/><circle cx="1707.1" cy="455.4" r="5.3"/><circle cx="1703.9" cy="470.8" r="5.3"/><circle cx="1795.6" cy="470.8" r="5.3"/><circle cx="1738.8" cy="478.5" r="5.3"/><circle cx="1809.8" cy="478.5" r="5.3"/><circle cx="1732.3" cy="486.2" r="5.3"/><circle cx="1780.6" cy="486.2" r="5.3"/><circle cx="1701.4" cy="501.6" r="5.3"/><circle cx="1739" cy="501.6" r="5.3"/><circle cx="1816.5" cy="501.6" r="5.3"/><circle cx="1720.7" cy="509.3" r="5.3"/><circle cx="1732.3" cy="509.3" r="5.3"/><circle cx="1756.5" cy="509.3" r="5.3"/><circle cx="1705.4" cy="517" r="5.3"/><circle cx="1708.9" cy="517" r="5.3"/><circle cx="1753.2" cy="517" r="5.3"/><circle cx="1768.7" cy="517" r="5.3"/><circle cx="1716.9" cy="524.6" r="5.3"/><circle cx="1716.9" cy="524.6" r="5.3"/><circle cx="1726.8" cy="524.6" r="5.3"/><circle cx="1732.8" cy="524.6" r="5.3"/><circle cx="1741.6" cy="524.6" r="5.3"/><circle cx="1823.5" cy="524.6" r="5.3"/><circle cx="1722.9" cy="532.3" r="5.3"/><circle cx="1737.8" cy="532.3" r="5.3"/><circle cx="1833.5" cy="532.3" r="5.3"/><circle cx="1833.5" cy="532.3" r="5.3"/><circle cx="1844.6" cy="532.3" r="5.3"/><circle cx="1694.4" cy="540" r="5.3"/><circle cx="1713.9" cy="540" r="5.3"/><circle cx="1713.9" cy="540" r="5.3"/><circle cx="1727.8" cy="540" r="5.3"/><circle cx="1729.8" cy="540" r="5.3"/><circle cx="1729.8" cy="540" r="5.3"/><circle cx="1742.8" cy="540" r="5.3"/><circle cx="1758.7" cy="540" r="5.3"/><circle cx="1758.7" cy="540" r="5.3"/><circle cx="1774.5" cy="540" r="5.3"/><circle cx="1786.1" cy="540" r="5.3"/><circle cx="1790.6" cy="540" r="5.3"/><circle cx="1722.4" cy="547.7" r="5.3"/><circle cx="1749.3" cy="547.7" r="5.3"/><circle cx="1803.6" cy="547.7" r="5.3"/><circle cx="1847.6" cy="547.7" r="5.3"/><circle cx="1700.9" cy="555.4" r="5.3"/><circle cx="1718.4" cy="555.4" r="5.3"/><circle cx="1768.7" cy="555.4" r="5.3"/><circle cx="1818" cy="555.4" r="5.3"/><circle cx="1846.9" cy="555.4" r="5.3"/><circle cx="1846.9" cy="555.4" r="5.3"/><circle cx="1744.3" cy="563.1" r="5.3"/><circle cx="1752.2" cy="563.1" r="5.3"/><circle cx="1821.5" cy="563.1" r="5.3"/><circle cx="1704.4" cy="570.8" r="5.3"/><circle cx="1744.3" cy="570.8" r="5.3"/><circle cx="1771.7" cy="578.5" r="5.3"/><circle cx="1808.6" cy="578.5" r="5.3"/><circle cx="1816.5" cy="578.5" r="5.3"/><circle cx="1813" cy="586.2" r="5.3"/><circle cx="1921.3" cy="455.4" r="5.3"/><circle cx="1864" cy="532.3" r="5.3"/><circle cx="1937.3" cy="547.7" r="5.3"/><circle cx="1869" cy="555.4" r="5.3"/><circle cx="1909.6" cy="570.8" r="5.3"/><circle cx="1887.2" cy="578.5" r="5.3"/><circle cx="1964.1" cy="578.5" r="5.3"/>
</g>
<rect x="1598.1" y="17.9" width="390.4" height="89.3" rx="5" ry="5" fill="#fff" fill-opacity="0.8" stroke="#ccc" stroke-opacity="0.8" stroke-width="1.6"/>
<g fill="#0ff" fill-opacity="0.7" stroke="#000" stroke-opacity="0.85" stroke-width="1.6">
<circle cx="1636.5" cy="42.5" r="5.3"/>
</g>
<g fill="#f0f" fill-opacity="0.7" stroke="#000" stroke-opacity="0.85" stroke-width="1.6">
<circle cx="1636.5" cy="82.5" r="5.3"/>
</g>
<g font-family='"DejaVu Sans", "Liberation Sans", sans-serif' font-size="27.7">
<text x="1685.6" y="49.3">adhesion &amp; repulsion</text><text x="1685.6" y="89.7">repulsion</text></g>
<rect x="1148" y="3.8" width="854.8" height="617.5" fill="none" stroke="#000" stroke-width="1.6"/>
<path d="M1160.4 621.3v6.5M1392.9 621.3v6.5M1625.4 621.3v6.5M1857.9 621.3v6.5M1148 524.6h-6.5M1148 401.5h-6.5M1148 278.3h-6.5M1148 155.1h-6.5M1148 31.9h-6.5" stroke="#000" stroke-width="1.5" fill="none"/>
<g font-family='"DejaVu Sans", "Liberation Sans", sans-serif' font-size="38.2" fill="#000">
<g text-anchor="middle">
<text x="1160.4" y="662">4.0</text>
<text x="1392.9" y="662">4.5</text>
<text x="1625.4" y="662">5.0</text>
<text x="1857.9" y="662">5.5</text>
</g><g text-anchor="end">
<text x="1135.4" y="540">2</text>
<text x="1135.4" y="416.8">4</text>
<text x="1135.4" y="293.6">6</text>
<text x="1135.4" y="170.4">8</text>
<text x="1135.4" y="47.3">10</text>
</g></g>
<text x="1575.4" y="705.7" font-family='"DejaVu Sans", "Liberation Sans", sans-serif' font-size="38.2" text-anchor="middle">max energy</text>
<text transform="translate(1071.8 314.8) rotate(-90)" font-family='"DejaVu Sans", "Liberation Sans", sans-serif' font-size="38.2" text-anchor="middle">T1 duration</text>
</g>
<text x="1522.4" y="792.8" font-family='"Liberation Sans", "DejaVu Sans", sans-serif' font-weight="bold" font-size="49.5" text-anchor="middle">(b)</text>
<g id="panel-c">
<path d="M182.3 1105.4L204.7 1099.1L229.7 1089.2L254.6 1078L279.5 1073.5L306.9 1067.2L329.3 1058L354.2 1044.3L379.1 1028.1L404 1009.4L430.9 985.8L453.9 967.1L478.8 949.2L503.7 935.9L528.6 926L543.6 921.5L551 922.2L555.3 924.7L555.3 1329.2L551 1328L528.6 1335.4L503.7 1345.4L478.8 1356.6L453.9 1364.1L430.9 1372.8L419 1380.3L404 1386.5L379.1 1400.2L354.2 1413.9L329.3 1423.9L306.9 1430.1L301.9 1431.3L272 1433.8L242.1 1438.8L212.2 1443.3L182.3 1442.6Z" fill="#ff0028" fill-opacity="0.06"/>
<path d="M182.3 1105.4L204.7 1099.1L229.7 1089.2L254.6 1078L279.5 1073.5L306.9 1067.2L329.3 1058L354.2 1044.3L379.1 1028.1L404 1009.4L430.9 985.8L453.9 967.1L478.8 949.2L503.7 935.9L528.6 926L543.6 921.5L551 922.2L555.3 924.7" fill="none" stroke="#ff0028" stroke-opacity="0.06" stroke-width="1.4" stroke-linejoin="round"/>
<path d="M182.3 1442.6L212.2 1443.3L242.1 1438.8L272 1433.8L301.9 1431.3L306.9 1430.1L329.3 1423.9L354.2 1413.9L379.1 1400.2L404 1386.5L419 1380.3L430.9 1372.8L453.9 1364.1L478.8 1356.6L503.7 1345.4L528.6 1335.4L551 1328L555.3 1329.2" fill="none" stroke="#ff0028" stroke-opacity="0.06" stroke-width="1.4" stroke-linejoin="round"/>
<path d="M554.9 953.4L567.4 968.3L579.8 984.5L592.3 997L604.7 1008.2L617.2 1016.9L629.7 1023.1L642.1 1028.1L654.6 1034.4L667 1041.8L679 1048.1L691.9 1055.5L704.4 1061.8L716.8 1066.2L729.3 1071L741.8 1075.5L754.2 1077.5L766.7 1079.4L779.1 1081.2L791.6 1082.2L803.3 1083.4L816.5 1084.2L829 1084.9L841.4 1084.9L853.9 1084.7L866.3 1084.9L873.8 1084.2L883.8 1080.4L891.2 1078.7L903.7 1077.2L916.1 1076.2L927.4 1074.7L927.4 1431.3L918.6 1431.3L908.7 1430.1L898.7 1429.3L886.3 1428.8L876.3 1429.1L866.3 1427.9L853.9 1425.9L846.4 1424.6L836.4 1424.1L824 1423.9L816.5 1424.6L803.3 1424.9L791.6 1425.4L779.1 1425.4L765.4 1424.6L754.2 1425.9L741.8 1425.6L734.3 1425.4L726.8 1424.4L714.4 1424.4L704.4 1422.9L691.9 1421.9L679 1421.4L672 1420.9L659.5 1418.4L647.1 1415.1L634.6 1410.2L622.2 1401.4L609.7 1391.5L597.3 1382.8L584.8 1372.8L572.4 1361.6L562.4 1349.1L554.9 1344.1Z" fill="#0ff" fill-opacity="0.12"/>
<path d="M554.9 953.4L567.4 968.3L579.8 984.5L592.3 997L604.7 1008.2L617.2 1016.9L629.7 1023.1L642.1 1028.1L654.6 1034.4L667 1041.8L679 1048.1L691.9 1055.5L704.4 1061.8L716.8 1066.2L729.3 1071L741.8 1075.5L754.2 1077.5L766.7 1079.4L779.1 1081.2L791.6 1082.2L803.3 1083.4L816.5 1084.2L829 1084.9L841.4 1084.9L853.9 1084.7L866.3 1084.9L873.8 1084.2L883.8 1080.4L891.2 1078.7L903.7 1077.2L916.1 1076.2L927.4 1074.7" fill="none" stroke="#0ff" stroke-opacity="0.12" stroke-width="1.4" stroke-linejoin="round"/>
<path d="M554.9 1344.1L562.4 1349.1L572.4 1361.6L584.8 1372.8L597.3 1382.8L609.7 1391.5L622.2 1401.4L634.6 1410.2L647.1 1415.1L659.5 1418.4L672 1420.9L679 1421.4L691.9 1421.9L704.4 1422.9L714.4 1424.4L726.8 1424.4L734.3 1425.4L741.8 1425.6L754.2 1425.9L765.4 1424.6L779.1 1425.4L791.6 1425.4L803.3 1424.9L816.5 1424.6L824 1423.9L836.4 1424.1L846.4 1424.6L853.9 1425.9L866.3 1427.9L876.3 1429.1L886.3 1428.8L898.7 1429.3L908.7 1430.1L918.6 1431.3L927.4 1431.3" fill="none" stroke="#0ff" stroke-opacity="0.12" stroke-width="1.4" stroke-linejoin="round"/>
<path d="M182.6 863.2V1481M306.7 863.2V1481M430.9 863.2V1481M555 863.2V1481M679.1 863.2V1481M803.3 863.2V1481M927.5 863.2V1481M145.6 1438.4H964.2M145.6 1331.8H964.2M145.6 1225.2H964.2M145.6 1118.6H964.2M145.6 1012H964.2M145.6 905.4H964.2" stroke="#b0b0b0" stroke-width="1.5" fill="none"/>
<g fill="#f00" fill-opacity="1" stroke="#000" stroke-opacity="1" stroke-width="1.55">
<circle cx="182.6" cy="1273.9" r="4.35"/><circle cx="195" cy="1272.1" r="4.35"/><circle cx="207.4" cy="1270.4" r="4.35"/><circle cx="219.8" cy="1266.9" r="4.35"/><circle cx="232.2" cy="1264.2" r="4.35"/><circle cx="244.6" cy="1260.4" r="4.35"/><circle cx="257" cy="1257" r="4.35"/><circle cx="269.5" cy="1255.2" r="4.35"/><circle cx="281.9" cy="1253.2" r="4.35"/><circle cx="294.3" cy="1251.2" r="4.35"/><circle cx="306.7" cy="1249.2" r="4.35"/><circle cx="319.1" cy="1244.7" r="4.35"/><circle cx="331.5" cy="1240.8" r="4.35"/><circle cx="343.9" cy="1235" r="4.35"/><circle cx="356.4" cy="1229" r="4.35"/><circle cx="368.8" cy="1222.6" r="4.35"/><circle cx="381.2" cy="1214.6" r="4.35"/><circle cx="393.6" cy="1206.1" r="4.35"/><circle cx="406" cy="1197.7" r="4.35"/><circle cx="418.4" cy="1189.2" r="4.35"/><circle cx="430.9" cy="1181" r="4.35"/><circle cx="443.3" cy="1172.2" r="4.35"/><circle cx="455.7" cy="1165.5" r="4.35"/><circle cx="468.1" cy="1160" r="4.35"/><circle cx="480.5" cy="1153.3" r="4.35"/><circle cx="492.9" cy="1146.6" r="4.35"/><circle cx="505.3" cy="1140.4" r="4.35"/><circle cx="517.8" cy="1135.1" r="4.35"/><circle cx="530.2" cy="1130.4" r="4.35"/><circle cx="542.6" cy="1125.7" r="4.35"/><circle cx="555" cy="1126.9" r="4.35"/>
</g>
<g fill="#00f" fill-opacity="1" stroke="#000" stroke-opacity="1" stroke-width="1.55">
<circle cx="555" cy="1149.2" r="4.35"/><circle cx="567.4" cy="1161.4" r="4.35"/><circle cx="579.8" cy="1175.6" r="4.35"/><circle cx="592.2" cy="1188.1" r="4.35"/><circle cx="604.7" cy="1198.5" r="4.35"/><circle cx="617.1" cy="1207.5" r="4.35"/><circle cx="629.5" cy="1214.7" r="4.35"/><circle cx="641.9" cy="1220.2" r="4.35"/><circle cx="654.3" cy="1224.9" r="4.35"/><circle cx="666.7" cy="1230.7" r="4.35"/><circle cx="679.1" cy="1234.9" r="4.35"/><circle cx="691.6" cy="1238.4" r="4.35"/><circle cx="704" cy="1241.9" r="4.35"/><circle cx="716.4" cy="1244.9" r="4.35"/><circle cx="728.8" cy="1248.1" r="4.35"/><circle cx="741.2" cy="1250.3" r="4.35"/><circle cx="753.6" cy="1251.8" r="4.35"/><circle cx="766.1" cy="1251.8" r="4.35"/><circle cx="778.5" cy="1253.3" r="4.35"/><circle cx="790.9" cy="1253.8" r="4.35"/><circle cx="803.3" cy="1254.3" r="4.35"/><circle cx="815.7" cy="1254.3" r="4.35"/><circle cx="828.1" cy="1254.8" r="4.35"/><circle cx="840.5" cy="1255.1" r="4.35"/><circle cx="853" cy="1255.3" r="4.35"/><circle cx="865.4" cy="1256.8" r="4.35"/><circle cx="877.8" cy="1256.8" r="4.35"/><circle cx="890.2" cy="1254.6" r="4.35"/><circle cx="902.6" cy="1253.1" r="4.35"/><circle cx="915" cy="1253.3" r="4.35"/><circle cx="927.5" cy="1252.8" r="4.35"/>
</g>
<rect x="718.6" y="876.7" width="231.9" height="89.1" rx="5" ry="5" fill="#fff" fill-opacity="0.8" stroke="#ccc" stroke-opacity="0.8" stroke-width="1.6"/>
<g fill="#f00" fill-opacity="1" stroke="#000" stroke-opacity="1" stroke-width="1.55">
<circle cx="757.2" cy="899.1" r="4.35"/>
</g>
<g fill="#00f" fill-opacity="1" stroke="#000" stroke-opacity="1" stroke-width="1.55">
<circle cx="757.2" cy="939.8" r="4.35"/>
</g>
<g font-family='"DejaVu Sans", "Liberation Sans", sans-serif' font-size="27.7">
<text x="806.8" y="908.6">before T1</text><text x="806.8" y="948.9">after T1</text></g>
<rect x="145.6" y="863.2" width="818.6" height="617.8" fill="none" stroke="#000" stroke-width="1.6"/>
<path d="M182.6 1481v6.5M306.7 1481v6.5M430.9 1481v6.5M555 1481v6.5M679.1 1481v6.5M803.3 1481v6.5M927.5 1481v6.5M145.6 1438.4h-6.5M145.6 1331.8h-6.5M145.6 1225.2h-6.5M145.6 1118.6h-6.5M145.6 1012h-6.5M145.6 905.4h-6.5" stroke="#000" stroke-width="1.5" fill="none"/>
<g font-family='"DejaVu Sans", "Liberation Sans", sans-serif' font-size="38.0" fill="#000">
<g text-anchor="middle">
<text x="182.6" y="1522.6">-30</text>
<text x="306.7" y="1522.6">-20</text>
<text x="430.9" y="1522.6">-10</text>
<text x="555" y="1522.6">0(T1)</text>
<text x="679.1" y="1522.6">10</text>
<text x="803.3" y="1522.6">20</text>
<text x="927.5" y="1522.6">30</text>
</g><g text-anchor="end">
<text x="133" y="1452.6">3.90</text>
<text x="133" y="1346">3.95</text>
<text x="133" y="1239.4">4.00</text>
<text x="133" y="1132.8">4.05</text>
<text x="133" y="1026.2">4.10</text>
<text x="133" y="919.6">4.15</text>
</g></g>
<text x="555" y="1565.2" font-family='"DejaVu Sans", "Liberation Sans", sans-serif' font-size="38.0" text-anchor="middle">time</text>
<text transform="translate(32.9 1172.4) rotate(-90)" font-family='"DejaVu Sans", "Liberation Sans", sans-serif' font-size="38.0" text-anchor="middle">shape index of T1 cells</text>
</g>
<text x="483.4" y="1652.8" font-family='"Liberation Sans", "DejaVu Sans", sans-serif' font-weight="bold" font-size="49.5" text-anchor="middle">(c)</text>
<g id="panel-d">
<path d="M1221.5 1050.5L1227.7 1036.8L1233.9 1038.6L1240.1 1035.6L1246.3 1049.3L1252.5 1029.9L1258.7 1058L1264.9 1034.4L1271.1 1053L1277.3 1064.3L1283.5 1054.3L1289.8 1005.7L1296 1018.2L1302.2 1070.5L1308.4 1049.3L1314.6 1044.3L1320.8 1009.4L1327 989.5L1333.2 1034.4L1339.4 1044.3L1345.6 1043.8L1351.8 1029.4L1358 1014.4L1364.2 1011.9L1370.4 1040.6L1376.6 1024.9L1382.8 1024.9L1389 1025.9L1395.2 1055.5L1401.4 1063L1407.7 1019.4L1413.9 1087.9L1420.1 1049.3L1426.3 983.3L1432.5 1038.1L1438.7 1061.8L1444.9 999.5L1451.1 1035.6L1457.3 1030.6L1463.5 1049.3L1469.7 1076.7L1475.9 1009.4L1482.1 974.6L1488.3 1049.3L1494.5 1005.7L1500.7 1030.6L1506.9 1025.6L1513.1 993.2L1519.3 1026.9L1525.5 1051.8L1531.8 989.5L1538 1034.4L1544.2 1058L1550.4 1021.4L1556.6 1034.4L1562.8 1010.7L1569 1013.7L1575.2 1028.1L1581.4 1011.4L1587.6 1021.9L1593.8 1021.4L1593.8 1403L1587.6 1363.2L1581.4 1400.5L1575.2 1409.3L1569 1409.8L1562.8 1389.3L1556.6 1416.7L1550.4 1376.9L1544.2 1365.7L1538 1368.2L1531.8 1374.4L1525.5 1388.1L1519.3 1385.6L1513.1 1366.9L1506.9 1383.1L1500.7 1389.3L1494.5 1409.3L1488.3 1379.4L1482.1 1363.2L1475.9 1404.3L1469.7 1414.3L1463.5 1384.4L1457.3 1378.1L1451.1 1355.7L1444.9 1378.1L1438.7 1396.8L1432.5 1390.6L1426.3 1373.1L1420.1 1398.1L1413.9 1386.8L1407.7 1391.8L1401.4 1385.6L1395.2 1394.3L1389 1411.8L1382.8 1366.9L1376.6 1365.7L1370.4 1401.8L1364.2 1359.4L1358 1398.1L1351.8 1399.3L1345.6 1411.8L1339.4 1396.8L1333.2 1399.3L1327 1363.2L1320.8 1384.4L1314.6 1389.3L1308.4 1398.1L1302.2 1398.1L1296 1394.3L1289.8 1400.5L1283.5 1393.1L1277.3 1386.8L1271.1 1405.5L1264.9 1380.6L1258.7 1378.1L1252.5 1394.3L1246.3 1419.2L1240.1 1384.4L1233.9 1416.7L1227.7 1378.1L1221.5 1393.1Z" fill="#ff0028" fill-opacity="0.06"/>
<path d="M1221.5 1050.5L1227.7 1036.8L1233.9 1038.6L1240.1 1035.6L1246.3 1049.3L1252.5 1029.9L1258.7 1058L1264.9 1034.4L1271.1 1053L1277.3 1064.3L1283.5 1054.3L1289.8 1005.7L1296 1018.2L1302.2 1070.5L1308.4 1049.3L1314.6 1044.3L1320.8 1009.4L1327 989.5L1333.2 1034.4L1339.4 1044.3L1345.6 1043.8L1351.8 1029.4L1358 1014.4L1364.2 1011.9L1370.4 1040.6L1376.6 1024.9L1382.8 1024.9L1389 1025.9L1395.2 1055.5L1401.4 1063L1407.7 1019.4L1413.9 1087.9L1420.1 1049.3L1426.3 983.3L1432.5 1038.1L1438.7 1061.8L1444.9 999.5L1451.1 1035.6L1457.3 1030.6L1463.5 1049.3L1469.7 1076.7L1475.9 1009.4L1482.1 974.6L1488.3 1049.3L1494.5 1005.7L1500.7 1030.6L1506.9 1025.6L1513.1 993.2L1519.3 1026.9L1525.5 1051.8L1531.8 989.5L1538 1034.4L1544.2 1058L1550.4 1021.4L1556.6 1034.4L1562.8 1010.7L1569 1013.7L1575.2 1028.1L1581.4 1011.4L1587.6 1021.9L1593.8 1021.4" fill="none" stroke="#ff0028" stroke-opacity="0.06" stroke-width="1.4" stroke-linejoin="round"/>
<path d="M1221.5 1393.1L1227.7 1378.1L1233.9 1416.7L1240.1 1384.4L1246.3 1419.2L1252.5 1394.3L1258.7 1378.1L1264.9 1380.6L1271.1 1405.5L1277.3 1386.8L1283.5 1393.1L1289.8 1400.5L1296 1394.3L1302.2 1398.1L1308.4 1398.1L1314.6 1389.3L1320.8 1384.4L1327 1363.2L1333.2 1399.3L1339.4 1396.8L1345.6 1411.8L1351.8 1399.3L1358 1398.1L1364.2 1359.4L1370.4 1401.8L1376.6 1365.7L1382.8 1366.9L1389 1411.8L1395.2 1394.3L1401.4 1385.6L1407.7 1391.8L1413.9 1386.8L1420.1 1398.1L1426.3 1373.1L1432.5 1390.6L1438.7 1396.8L1444.9 1378.1L1451.1 1355.7L1457.3 1378.1L1463.5 1384.4L1469.7 1414.3L1475.9 1404.3L1482.1 1363.2L1488.3 1379.4L1494.5 1409.3L1500.7 1389.3L1506.9 1383.1L1513.1 1366.9L1519.3 1385.6L1525.5 1388.1L1531.8 1374.4L1538 1368.2L1544.2 1365.7L1550.4 1376.9L1556.6 1416.7L1562.8 1389.3L1569 1409.8L1575.2 1409.3L1581.4 1400.5L1587.6 1363.2L1593.8 1403" fill="none" stroke="#ff0028" stroke-opacity="0.06" stroke-width="1.4" stroke-linejoin="round"/>
<path d="M1593.8 932.2L1600 899.8L1606.2 894.3L1612.4 911L1618.6 891.1L1624.8 949.7L1631 953.4L1637.2 932.2L1643.4 965.8L1649.6 991.5L1655.8 942.2L1662.1 962.1L1668.3 978.3L1674.5 981.5L1680.7 980L1686.9 982L1693.1 983.3L1699.3 987L1705.5 994.5L1711.7 977.1L1717.9 1009.4L1724.1 987.5L1730.3 995.7L1736.5 1019.4L1742.7 1044.3L1748.9 979.5L1755.1 976.6L1761.3 1030.6L1767.5 1035.6L1773.7 995.7L1780 1002.5L1786.2 984.5L1792.4 1038.1L1798.6 1013.7L1804.8 1016.9L1811 1036.8L1817.2 1059.3L1823.4 1031.9L1829.6 1006.5L1835.8 1002L1842 1018.2L1848.2 1000.7L1854.4 1035.6L1860.6 992L1866.8 1039.3L1873 1064.3L1879.2 1028.9L1885.4 1043.1L1891.6 1024.4L1897.8 1014.4L1904 993.2L1910.3 1043.1L1916.5 1040.6L1922.7 997L1928.9 958.4L1935.1 1009.4L1941.3 1049.3L1947.5 1046.8L1953.7 1024.4L1959.9 1058L1966.1 1053L1966.1 1414.3L1959.9 1404.3L1953.7 1414.3L1947.5 1414.3L1941.3 1403L1935.1 1414.3L1928.9 1396.8L1922.7 1378.1L1916.5 1411.8L1910.3 1420.5L1904 1452.9L1897.8 1366.9L1891.6 1378.1L1885.4 1396.8L1879.2 1385.6L1873 1378.1L1866.8 1413L1860.6 1415.5L1854.4 1380.6L1848.2 1401.8L1842 1384.4L1835.8 1381.9L1829.6 1380.6L1823.4 1373.1L1817.2 1357L1811 1361.9L1804.8 1370.7L1798.6 1361.9L1792.4 1378.1L1786.2 1393.1L1780 1364.4L1773.7 1366.9L1767.5 1380.6L1761.3 1371.9L1755.1 1352L1748.9 1360.7L1742.7 1345.7L1736.5 1370.7L1730.3 1364.4L1724.1 1374.4L1717.9 1348.2L1711.7 1339.5L1705.5 1337L1699.3 1360.7L1693.1 1359.4L1686.9 1355.7L1680.7 1330.8L1674.5 1342L1668.3 1325.8L1662.1 1347L1655.8 1319.6L1649.6 1314.6L1643.4 1322.1L1637.2 1300.9L1631 1292.2L1624.8 1299.7L1618.6 1322.1L1612.4 1272.2L1606.2 1297.2L1600 1288.4L1593.8 1274.7Z" fill="#0ff" fill-opacity="0.12"/>
<path d="M1593.8 932.2L1600 899.8L1606.2 894.3L1612.4 911L1618.6 891.1L1624.8 949.7L1631 953.4L1637.2 932.2L1643.4 965.8L1649.6 991.5L1655.8 942.2L1662.1 962.1L1668.3 978.3L1674.5 981.5L1680.7 980L1686.9 982L1693.1 983.3L1699.3 987L1705.5 994.5L1711.7 977.1L1717.9 1009.4L1724.1 987.5L1730.3 995.7L1736.5 1019.4L1742.7 1044.3L1748.9 979.5L1755.1 976.6L1761.3 1030.6L1767.5 1035.6L1773.7 995.7L1780 1002.5L1786.2 984.5L1792.4 1038.1L1798.6 1013.7L1804.8 1016.9L1811 1036.8L1817.2 1059.3L1823.4 1031.9L1829.6 1006.5L1835.8 1002L1842 1018.2L1848.2 1000.7L1854.4 1035.6L1860.6 992L1866.8 1039.3L1873 1064.3L1879.2 1028.9L1885.4 1043.1L1891.6 1024.4L1897.8 1014.4L1904 993.2L1910.3 1043.1L1916.5 1040.6L1922.7 997L1928.9 958.4L1935.1 1009.4L1941.3 1049.3L1947.5 1046.8L1953.7 1024.4L1959.9 1058L1966.1 1053" fill="none" stroke="#0ff" stroke-opacity="0.12" stroke-width="1.4" stroke-linejoin="round"/>
<path d="M1593.8 1274.7L1600 1288.4L1606.2 1297.2L1612.4 1272.2L1618.6 1322.1L1624.8 1299.7L1631 1292.2L1637.2 1300.9L1643.4 1322.1L1649.6 1314.6L1655.8 1319.6L1662.1 1347L1668.3 1325.8L1674.5 1342L1680.7 1330.8L1686.9 1355.7L1693.1 1359.4L1699.3 1360.7L1705.5 1337L1711.7 1339.5L1717.9 1348.2L1724.1 1374.4L1730.3 1364.4L1736.5 1370.7L1742.7 1345.7L1748.9 1360.7L1755.1 1352L1761.3 1371.9L1767.5 1380.6L1773.7 1366.9L1780 1364.4L1786.2 1393.1L1792.4 1378.1L1798.6 1361.9L1804.8 1370.7L1811 1361.9L1817.2 1357L1823.4 1373.1L1829.6 1380.6L1835.8 1381.9L1842 1384.4L1848.2 1401.8L1854.4 1380.6L1860.6 1415.5L1866.8 1413L1873 1378.1L1879.2 1385.6L1885.4 1396.8L1891.6 1378.1L1897.8 1366.9L1904 1452.9L1910.3 1420.5L1916.5 1411.8L1922.7 1378.1L1928.9 1396.8L1935.1 1414.3L1941.3 1403L1947.5 1414.3L1953.7 1414.3L1959.9 1404.3L1966.1 1414.3" fill="none" stroke="#0ff" stroke-opacity="0.12" stroke-width="1.4" stroke-linejoin="round"/>
<path d="M1221.5 863.2V1481M1345.6 863.2V1481M1469.7 863.2V1481M1593.8 863.2V1481M1717.9 863.2V1481M1842 863.2V1481M1966.1 863.2V1481M1184.3 1464H2002.8M1184.3 1383.3H2002.8M1184.3 1302.5H2002.8M1184.3 1221.8H2002.8M1184.3 1141H2002.8M1184.3 1060.3H2002.8M1184.3 979.5H2002.8M1184.3 898.8H2002.8" stroke="#b0b0b0" stroke-width="1.5" fill="none"/>
<g fill="#f00" fill-opacity="1" stroke="#000" stroke-opacity="1" stroke-width="1.55">
<circle cx="1221.5" cy="1224.4" r="4.35"/><circle cx="1233.9" cy="1228.2" r="4.35"/><circle cx="1246.3" cy="1235.7" r="4.35"/><circle cx="1258.7" cy="1219.2" r="4.35"/><circle cx="1271.1" cy="1229.7" r="4.35"/><circle cx="1283.5" cy="1223.4" r="4.35"/><circle cx="1296" cy="1206" r="4.35"/><circle cx="1308.4" cy="1224.2" r="4.35"/><circle cx="1320.8" cy="1196" r="4.35"/><circle cx="1333.2" cy="1216.7" r="4.35"/><circle cx="1345.6" cy="1229.2" r="4.35"/><circle cx="1358" cy="1206.3" r="4.35"/><circle cx="1370.4" cy="1222.2" r="4.35"/><circle cx="1382.8" cy="1195.8" r="4.35"/><circle cx="1395.2" cy="1225.4" r="4.35"/><circle cx="1407.7" cy="1204.5" r="4.35"/><circle cx="1420.1" cy="1222.9" r="4.35"/><circle cx="1432.5" cy="1216.5" r="4.35"/><circle cx="1444.9" cy="1189.3" r="4.35"/><circle cx="1457.3" cy="1206.3" r="4.35"/><circle cx="1469.7" cy="1246.9" r="4.35"/><circle cx="1482.1" cy="1168.1" r="4.35"/><circle cx="1494.5" cy="1207.7" r="4.35"/><circle cx="1506.9" cy="1208.7" r="4.35"/><circle cx="1519.3" cy="1205.3" r="4.35"/><circle cx="1531.8" cy="1181.1" r="4.35"/><circle cx="1544.2" cy="1211.2" r="4.35"/><circle cx="1556.6" cy="1225.9" r="4.35"/><circle cx="1569" cy="1211.2" r="4.35"/><circle cx="1581.4" cy="1206.8" r="4.35"/><circle cx="1593.8" cy="1218.5" r="4.35"/>
</g>
<g fill="#00f" fill-opacity="1" stroke="#000" stroke-opacity="1" stroke-width="1.55">
<circle cx="1593.8" cy="1107.1" r="4.35"/><circle cx="1606.2" cy="1096.1" r="4.35"/><circle cx="1618.6" cy="1106.4" r="4.35"/><circle cx="1631" cy="1123" r="4.35"/><circle cx="1643.4" cy="1141.5" r="4.35"/><circle cx="1655.8" cy="1131" r="4.35"/><circle cx="1668.3" cy="1152.4" r="4.35"/><circle cx="1680.7" cy="1155.2" r="4.35"/><circle cx="1693.1" cy="1171.9" r="4.35"/><circle cx="1705.5" cy="1166.4" r="4.35"/><circle cx="1717.9" cy="1180.8" r="4.35"/><circle cx="1730.3" cy="1179.8" r="4.35"/><circle cx="1742.7" cy="1195" r="4.35"/><circle cx="1755.1" cy="1164.4" r="4.35"/><circle cx="1767.5" cy="1208.2" r="4.35"/><circle cx="1780" cy="1185.1" r="4.35"/><circle cx="1792.4" cy="1208.2" r="4.35"/><circle cx="1804.8" cy="1193.8" r="4.35"/><circle cx="1817.2" cy="1207.5" r="4.35"/><circle cx="1829.6" cy="1194.3" r="4.35"/><circle cx="1842" cy="1201.5" r="4.35"/><circle cx="1854.4" cy="1208.2" r="4.35"/><circle cx="1866.8" cy="1226.2" r="4.35"/><circle cx="1879.2" cy="1207.5" r="4.35"/><circle cx="1891.6" cy="1200.8" r="4.35"/><circle cx="1904" cy="1222.9" r="4.35"/><circle cx="1916.5" cy="1226.2" r="4.35"/><circle cx="1928.9" cy="1176.1" r="4.35"/><circle cx="1941.3" cy="1226.4" r="4.35"/><circle cx="1953.7" cy="1219.5" r="4.35"/><circle cx="1966.1" cy="1234.2" r="4.35"/>
</g>
<rect x="1757.4" y="876.7" width="232.2" height="89.1" rx="5" ry="5" fill="#fff" fill-opacity="0.8" stroke="#ccc" stroke-opacity="0.8" stroke-width="1.6"/>
<g fill="#f00" fill-opacity="1" stroke="#000" stroke-opacity="1" stroke-width="1.55">
<circle cx="1796" cy="899.1" r="4.35"/>
</g>
<g fill="#00f" fill-opacity="1" stroke="#000" stroke-opacity="1" stroke-width="1.55">
<circle cx="1796" cy="939.8" r="4.35"/>
</g>
<g font-family='"DejaVu Sans", "Liberation Sans", sans-serif' font-size="27.7">
<text x="1846" y="908.6">before T1</text><text x="1846" y="948.9">after T1</text></g>
<rect x="1184.3" y="863.2" width="818.5" height="617.8" fill="none" stroke="#000" stroke-width="1.6"/>
<path d="M1221.5 1481v6.5M1345.6 1481v6.5M1469.7 1481v6.5M1593.8 1481v6.5M1717.9 1481v6.5M1842 1481v6.5M1966.1 1481v6.5M1184.3 1464h-6.5M1184.3 1383.3h-6.5M1184.3 1302.5h-6.5M1184.3 1221.8h-6.5M1184.3 1141h-6.5M1184.3 1060.3h-6.5M1184.3 979.5h-6.5M1184.3 898.8h-6.5" stroke="#000" stroke-width="1.5" fill="none"/>
<g font-family='"DejaVu Sans", "Liberation Sans", sans-serif' font-size="38.0" fill="#000">
<g text-anchor="middle">
<text x="1221.5" y="1522.6">-30</text>
<text x="1345.6" y="1522.6">-20</text>
<text x="1469.7" y="1522.6">-10</text>
<text x="1593.8" y="1522.6">0(T1)</text>
<text x="1717.9" y="1522.6">10</text>
<text x="1842" y="1522.6">20</text>
<text x="1966.1" y="1522.6">30</text>
</g><g text-anchor="end">
<text x="1171.7" y="1478.2">0.08</text>
<text x="1171.7" y="1397.5">0.10</text>
<text x="1171.7" y="1316.7">0.12</text>
<text x="1171.7" y="1236">0.14</text>
<text x="1171.7" y="1155.2">0.16</text>
<text x="1171.7" y="1074.5">0.18</text>
<text x="1171.7" y="993.7">0.20</text>
<text x="1171.7" y="913">0.22</text>
</g></g>
<text x="1594" y="1565.2" font-family='"DejaVu Sans", "Liberation Sans", sans-serif' font-size="38.0" text-anchor="middle">time</text>
<text transform="translate(1072 1172.4) rotate(-90)" font-family='"DejaVu Sans", "Liberation Sans", sans-serif' font-size="38.0" text-anchor="middle">velocity of T1 cells</text>
</g>
<text x="1522.4" y="1652.8" font-family='"Liberation Sans", "DejaVu Sans", sans-serif' font-weight="bold" font-size="49.5" text-anchor="middle">(d)</text>
</svg>
</body></html>
